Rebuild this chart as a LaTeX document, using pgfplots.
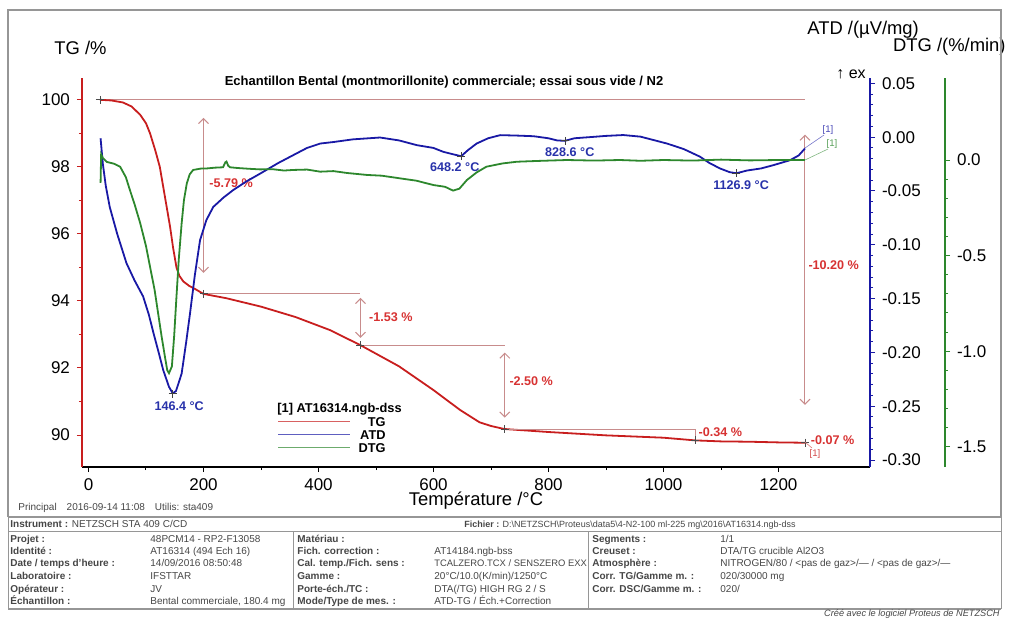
\documentclass[border=0pt]{standalone}
\usepackage{fontspec}
\setmainfont{Liberation Sans}
\usepackage{pgfplots}
\pgfplotsset{compat=1.18}
\usetikzlibrary{arrows.meta}
\pgfkeys{/pgf/number format/set thousands separator={}}
\definecolor{tgred}{RGB}{200,30,30}
\definecolor{atdblue}{RGB}{25,25,165}
\definecolor{dtggreen}{RGB}{45,135,45}
\definecolor{annot}{RGB}{200,140,140}
\definecolor{annotxt}{RGB}{215,50,50}
\definecolor{peakblue}{RGB}{40,50,170}
\definecolor{framegray}{RGB}{150,150,150}
\definecolor{txtgray}{RGB}{70,70,70}
\newcommand\fs[1]{\fontsize{#1}{#1}\selectfont}

\pgfplotstableread{
T TG
20 100.00
40 99.98
60 99.92
75 99.80
90 99.55
100 99.30
107 99.00
116 98.50
124 98.00
130 97.40
136 96.80
142 96.20
147 95.60
153 95.00
158 94.75
165 94.58
175 94.45
185 94.36
200 94.21
240 94.08
300 93.83
360 93.52
420 93.13
473 92.68
540 92.05
600 91.34
646 90.75
680 90.38
700 90.27
723 90.18
800 90.09
900 89.99
1000 89.92
1055 89.84
1100 89.81
1150 89.80
1200 89.78
1246 89.77
}\tgdata

\pgfplotstableread{
T ATD
21 -0.001
25 -0.025
30 -0.045
37 -0.065
50 -0.090
66 -0.117
80 -0.133
95 -0.148
105 -0.165
113 -0.182
122 -0.200
130 -0.2165
140 -0.232
146.4 -0.238
152 -0.236
157 -0.228
162 -0.2196
170 -0.190
176.5 -0.164
185 -0.128
194 -0.0957
205 -0.077
217 -0.0648
235 -0.056
252 -0.049
275 -0.041
298 -0.034
330 -0.024
356 -0.0167
380 -0.010
403 -0.0059
426 -0.0045
460 -0.002
507 -0.0003
540 -0.003
571 -0.0074
600 -0.010
617 -0.0136
635 -0.016
648 -0.0177
660 -0.012
675 -0.0059
695 -0.001
716 0.0019
745 0.0015
774 0.0009
800 -0.001
815 -0.003
828.6 -0.0034
845 -0.001
878 0.0003
900 0.0012
930 0.0020
960 0.0005
1006 -0.0059
1035 -0.011
1063 -0.018
1080 -0.024
1098 -0.029
1115 -0.0325
1127 -0.0335
1145 -0.031
1170 -0.029
1191 -0.026
1220 -0.0214
1235 -0.017
1246 -0.0105
}\atddata

\pgfplotstableread{
T DTG
21 -0.12
22 0.03
25 0.01
32 -0.01
45 -0.02
55 -0.035
65 -0.09
72 -0.157
80 -0.23
90 -0.331
100 -0.45
107 -0.558
115 -0.68
121 -0.80
127 -0.92
133 -1.03
137 -1.10
140 -1.115
145 -1.08
149 -0.92
153 -0.715
157 -0.52
162 -0.331
166 -0.21
171 -0.122
176 -0.075
182 -0.052
195 -0.045
206 -0.044
220 -0.040
234 -0.038
238 -0.012
240 -0.008
243 -0.030
246 -0.038
260 -0.042
280 -0.046
298 -0.049
320 -0.048
340 -0.055
356 -0.052
380 -0.050
403 -0.061
426 -0.058
450 -0.068
484 -0.078
510 -0.082
542 -0.096
570 -0.108
600 -0.131
620 -0.140
634 -0.160
645 -0.150
658 -0.105
675 -0.065
692 -0.035
720 -0.018
745 -0.009
780 -0.005
832 0.000
880 -0.003
924 0.000
960 -0.004
1000 0.000
1050 -0.003
1100 0.002
1150 -0.002
1200 0.000
1246 0.000
}\dtgdata

\begin{document}
\begin{tikzpicture}[x=0.5pt,y=-0.5pt]
% ---------- TG axis ----------
\begin{axis}[
  at={(41pt,-233.5pt)}, anchor=south west,
  scale only axis, width=394pt, height=194.5pt,
  xmin=-11.3, xmax=1359.1, ymin=89.046, ymax=100.65,
  axis x line*=bottom, axis y line*=left,
  x axis line style={black, line width=0.8pt, -},
  y axis line style={tgred, line width=0.9pt, -},
  xtick={0,200,...,1200}, minor x tick num=1,
  ytick={90,92,...,100}, minor y tick num=1,
  tick align=outside, major tick length=2.5pt, minor tick length=1.5pt,
  xtick style={black, line width=0.5pt}, ytick style={tgred, line width=0.5pt},
  tick label style={font=\fs{8.5}},
  xticklabel style={/pgf/number format/.cd, set thousands separator={}, assume math mode=true},
  yticklabel style={/pgf/number format/.cd, assume math mode=true},
  clip=false,
]
\addplot[annot, line width=0.4pt] coordinates {(20,100) (1246,100)};
\addplot[tgred, line width=0.9pt] table[x=T,y=TG] {\tgdata};
\draw[annot, line width=0.4pt] (axis cs:200,94.21) -- (axis cs:473,94.21);
\draw[annot, line width=0.4pt] (axis cs:473,92.68) -- (axis cs:724,92.68);
\draw[annot, line width=0.4pt] (axis cs:724,90.18) -- (axis cs:1055,90.18) -- (axis cs:1055,89.84);
\draw[annot, line width=0.5pt, {Straight Barb[length=2.5pt]}-{Straight Barb[length=2.5pt]}] (axis cs:200,99.46) -- (axis cs:200,94.84);
\draw[annot, line width=0.5pt, {Straight Barb[length=2.5pt]}-{Straight Barb[length=2.5pt]}] (axis cs:473,94.09) -- (axis cs:473,92.90);
\draw[annot, line width=0.5pt, {Straight Barb[length=2.5pt]}-{Straight Barb[length=2.5pt]}] (axis cs:724,92.46) -- (axis cs:724,90.52);
\draw[annot, line width=0.5pt, {Straight Barb[length=2.5pt]}-{Straight Barb[length=2.5pt]}] (axis cs:1246,98.96) -- (axis cs:1246,90.90);
\addplot[only marks, mark=+, mark size=2pt, gray!60!black, mark options={line width=0.4pt}] coordinates {(20,100) (200,94.21) (473,92.68) (724,90.18) (1055,89.84) (1246,89.77)};
\begin{scope}[every node/.style={text=annotxt, font=\fs{6.3}\bfseries, anchor=west, inner sep=1pt}]
\node at (axis cs:206,97.52) {-5.79 \%};
\node at (axis cs:484,93.52) {-1.53 \%};
\node at (axis cs:728,91.61) {-2.50 \%};
\node at (axis cs:1248,95.07) {-10.20 \%};
\node at (axis cs:1057,90.09) {-0.34 \%};
\node at (axis cs:1252,89.86) {-0.07 \%};
\end{scope}
\end{axis}
% ---------- ATD axis ----------
\begin{axis}[
  at={(41pt,-233.5pt)}, anchor=south west,
  scale only axis, width=394pt, height=194.5pt,
  xmin=-11.3, xmax=1359.1, ymin=-0.3065, ymax=0.0550,
  axis x line=none, axis y line*=right,
  y axis line style={atdblue, line width=0.9pt, -},
  ytick={-0.3,-0.25,-0.2,-0.15,-0.1,-0.05,0,0.05}, minor y tick num=4,
  tick align=outside, major tick length=2.5pt, minor tick length=1.5pt,
  ytick style={atdblue, line width=0.5pt},
  tick label style={font=\fs{8.5}},
  yticklabel style={/pgf/number format/.cd, fixed, fixed zerofill, precision=2, assume math mode=true},
  clip=false,
]
\addplot[atdblue, line width=0.9pt] table[x=T,y=ATD] {\atddata};
\addplot[only marks, mark=+, mark size=2pt, gray!50!black, mark options={line width=0.4pt}] coordinates {(146.4,-0.2382) (648.2,-0.0177) (828.6,-0.0034) (1126.9,-0.0335)};
\begin{scope}[every node/.style={text=peakblue, font=\fs{6.3}\bfseries, inner sep=1pt}]
\node at (axis cs:157.6,-0.2498) {146.4 °C};
\node at (axis cs:637,-0.0277) {648.2 °C};
\node at (axis cs:837,-0.0137) {828.6 °C};
\node at (axis cs:1135,-0.0444) {1126.9 °C};
\end{scope}
\end{axis}
% ---------- DTG axis ----------
\begin{axis}[
  at={(41pt,-233.5pt)}, anchor=south west,
  scale only axis, width=431.5pt, height=194.5pt,
  xmin=-11.3, xmax=1489.6, ymin=-1.6057, ymax=0.4289,
  axis x line=none, axis y line*=right,
  y axis line style={dtggreen, line width=0.9pt, -},
  ytick={-1.5,-1,-0.5,0}, minor y tick num=4,
  tick align=outside, major tick length=2.5pt, minor tick length=1.5pt,
  ytick style={dtggreen, line width=0.5pt},
  tick label style={font=\fs{8.5}},
  yticklabel style={/pgf/number format/.cd, fixed, fixed zerofill, precision=1, assume math mode=true},
  clip=false,
]
\addplot[dtggreen, line width=0.9pt] table[x=T,y=DTG] {\dtgdata};
\end{axis}
% ---------- texts around ----------
\node[anchor=west, font=\fs{9.2}, inner sep=0pt] at (54,48) {TG /\%};
\node[anchor=west, font=\fs{9.2}, inner sep=0pt] at (807,30) {ATD /(µV/mg)};
\node[anchor=east, font=\fs{9.2}, inner sep=0pt] at (1006,47) {DTG /(\%/min)};
\node[font=\fs{9.2}, inner sep=0pt] at (476,501) {Température /°C};
\node[anchor=west, font=\fs{8}, inner sep=0pt] at (836,74) {↑ ex};
\node[font=\fs{6.5}\bfseries, inner sep=0pt] at (444,82) {Echantillon Bental (montmorillonite) commerciale; essai sous vide / N2};
% legend
\node[anchor=west, font=\fs{6.4}\bfseries, inner sep=0pt] at (277,409) {[1] AT16314.ngb-dss};
\draw[tgred!70, line width=0.4pt] (278,421) -- (350,421);
\draw[atdblue!70, line width=0.4pt] (278,434) -- (350,434);
\draw[dtggreen!70, line width=0.4pt] (278,447) -- (350,447);
\node[anchor=east, font=\fs{6.4}\bfseries, inner sep=0pt] at (386,422) {TG};
\node[anchor=east, font=\fs{6.4}\bfseries, inner sep=0pt] at (386,435) {ATD};
\node[anchor=east, font=\fs{6.4}\bfseries, inner sep=0pt] at (386,448) {DTG};
% [1] tags
\draw[tgred!60, line width=0.3pt] (805,442) -- (812,448);
\node[text=tgred!80, font=\fs{4.8}, inner sep=0pt] at (815,454) {[1]};
\draw[atdblue!60, line width=0.3pt] (805,148) -- (824,135);
\node[text=atdblue!80, font=\fs{4.8}, inner sep=0pt] at (828,130) {[1]};
\draw[dtggreen!60, line width=0.3pt] (805,160) -- (828,149);
\node[text=dtggreen!80, font=\fs{4.8}, inner sep=0pt] at (832,144) {[1]};
% frame
\draw[framegray, line width=0.6pt] (8,517) -- (8,10) -- (1001,10) -- (1001,517);
\node[anchor=west, text=txtgray, font=\fs{5}, inner sep=0pt] at (18,508) {Principal\quad 2016-09-14 11:08\quad Utilis: sta409};
% table
\draw[framegray, line width=0.8pt] (8,517) -- (1001,517);
\draw[framegray, line width=0.5pt] (8,531) -- (1001,531);
\draw[framegray, line width=0.8pt] (8,609) -- (1001,609);
\draw[framegray, line width=0.5pt] (8,517) -- (8,609);
\draw[framegray, line width=0.5pt] (1001,517) -- (1001,609);
\draw[framegray, line width=0.5pt] (293,531) -- (293,609);
\draw[framegray, line width=0.5pt] (588,531) -- (588,609);
\begin{scope}[every node/.style={anchor=base west, font=\fs{5}, inner sep=0pt, text=txtgray}]
\node at (10,527) {\textbf{Instrument :} NETZSCH STA 409 C/CD};
\node[font=\fs{4.5}] at (464,527) {\textbf{Fichier :} D:\textbackslash NETZSCH\textbackslash Proteus\textbackslash data5\textbackslash 4-N2-100 ml-225 mg\textbackslash 2016\textbackslash AT16314.ngb-dss};
\node[font=\fs{5}\bfseries] at (10,542) {Projet :};
\node[font=\fs{5}\bfseries] at (10,554) {Identité :};
\node[font=\fs{5}\bfseries] at (10,566) {Date / temps d'heure :};
\node[font=\fs{5}\bfseries] at (10,579) {Laboratoire :};
\node[font=\fs{5}\bfseries] at (10,592) {Opérateur :};
\node[font=\fs{5}\bfseries] at (10,604) {Échantillon :};
\node at (150,542) {48PCM14 - RP2-F13058};
\node at (150,554) {AT16314 (494 Ech 16)};
\node at (150,566) {14/09/2016 08:50:48};
\node at (150,579) {IFSTTAR};
\node at (150,592) {JV};
\node at (150,604) {Bental commerciale, 180.4 mg};
\node[font=\fs{5}\bfseries] at (297,542) {Matériau :};
\node[font=\fs{5}\bfseries] at (297,554) {Fich. correction :};
\node[font=\fs{5}\bfseries] at (297,566) {Cal. temp./Fich. sens :};
\node[font=\fs{5}\bfseries] at (297,579) {Gamme :};
\node[font=\fs{5}\bfseries] at (297,592) {Porte-éch./TC :};
\node[font=\fs{5}\bfseries] at (297,604) {Mode/Type de mes. :};
\node at (434,554) {AT14184.ngb-bss};
\node[font=\fs{4.7}] at (434,566) {TCALZERO.TCX / SENSZERO EXX};
\node at (434,579) {20°C/10.0(K/min)/1250°C};
\node at (434,592) {DTA(/TG) HIGH RG 2 / S};
\node at (434,604) {ATD-TG / Éch.+Correction};
\node[font=\fs{5}\bfseries] at (592,542) {Segments :};
\node[font=\fs{5}\bfseries] at (592,554) {Creuset :};
\node[font=\fs{5}\bfseries] at (592,566) {Atmosphère :};
\node[font=\fs{5}\bfseries] at (592,579) {Corr. TG/Gamme m. :};
\node[font=\fs{5}\bfseries] at (592,592) {Corr. DSC/Gamme m. :};
\node at (720,542) {1/1};
\node at (720,554) {DTA/TG crucible Al2O3};
\node at (720,566) {NITROGEN/80 / <pas de gaz>/--- / <pas de gaz>/---};
\node at (720,579) {020/30000 mg};
\node at (720,592) {020/};
\end{scope}
\node[anchor=east, font=\fs{4.6}\itshape, text=txtgray, inner sep=0pt] at (1000,614) {Créé avec le logiciel Proteus de NETZSCH};
\pgfresetboundingbox
\path[use as bounding box] (0,0) rectangle (1009,618);
\end{tikzpicture}
\end{document}
